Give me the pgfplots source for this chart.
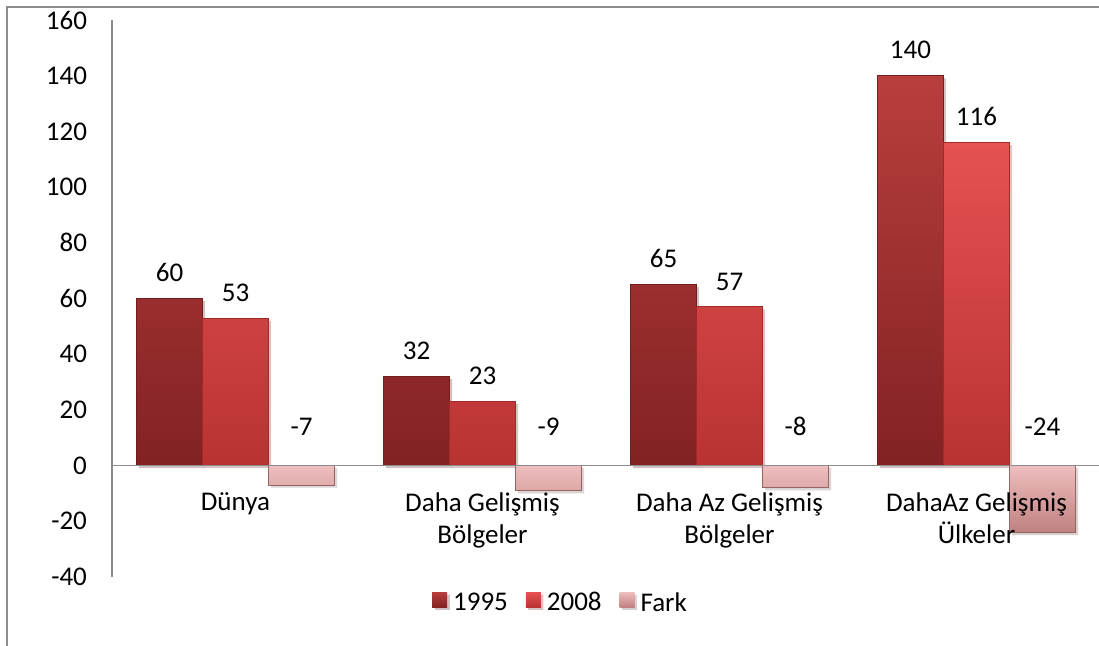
\documentclass[border=0pt]{standalone}
\usepackage{pgfplots}
\pgfplotsset{compat=1.18}
\usepackage{fontspec}
\setmainfont{Carlito}
\definecolor{aTop}{RGB}{185,62,62}
\definecolor{aBot}{RGB}{130,34,34}
\definecolor{aDr}{RGB}{115,30,30}
\definecolor{bTop}{RGB}{230,82,82}
\definecolor{bBot}{RGB}{185,50,50}
\definecolor{bDr}{RGB}{160,42,42}
\definecolor{cTop}{RGB}{238,190,190}
\definecolor{cBot}{RGB}{192,128,128}
\definecolor{cDr}{RGB}{150,100,100}
\definecolor{axgray}{RGB}{140,140,140}
\begin{document}
\begin{tikzpicture}[font=\fontsize{13.5pt}{16pt}\selectfont]
\path[use as bounding box] (-56pt,-34pt) rectangle (493.5pt,288.5pt);
\draw[axgray, line width=0.6pt] (-52.5pt,-40pt) -- (-52.5pt,285pt) -- (500pt,285pt);
\begin{axis}[
  at={(0,0)}, anchor=south west,
  scale only axis, width=494pt, height=278.5pt,
  ymin=-40, ymax=160, ytick={-40,-20,...,160},
  xmin=-0.5, xmax=3.5, xtick={0,1,2,3},
  xticklabels={Dünya,{Daha Gelişmiş\\Bölgeler},{Daha Az Gelişmiş\\Bölgeler},{DahaAz Gelişmiş\\Ülkeler}},
  ybar=0pt, bar width=33pt,
  axis on top,
  axis x line*=middle, axis y line*=left,
  axis line style={axgray, line width=0.6pt},
  major tick length=0pt,
  /pgf/number format/assume math mode=true,
  yticklabel style={xshift=-9pt},
  xticklabel style={align=center, yshift=-10pt},
  clip=false,
  legend style={at={(0.455,-0.047)}, anchor=center, draw=none, fill=none,
    legend columns=3, /tikz/every even column/.append style={column sep=7pt},
    /tikz/every odd column/.append style={column sep=1pt}},
  legend image code/.code={\path[#1, draw=none] (0pt,-2pt) rectangle (7.5pt,5.5pt);},
  nodes near coords,
  every node near coord/.append style={anchor=south, yshift=4.8pt, text=black},
  shadowed/.style={preaction={fill=black, fill opacity=0.14, draw=none, transform canvas={xshift=1.3pt, yshift=-1.3pt}}},
]
\addplot[shadowed, top color=aTop, bottom color=aBot, draw=aDr, line width=0.4pt]
  coordinates {(0,60) (1,32) (2,65) (3,140)};
\addplot[shadowed, top color=bTop, bottom color=bBot, draw=bDr, line width=0.4pt]
  coordinates {(0,53) (1,23) (2,57) (3,116)};
\addplot[shadowed, top color=cTop, bottom color=cBot, draw=cDr, line width=0.4pt,
  visualization depends on={rawy \as \ry},
  every node near coord/.append style={anchor=south, shift={(axis direction cs:0,{-\ry})}, yshift=6.5pt}]
  coordinates {(0,-7) (1,-9) (2,-8) (3,-24)};
\legend{1995,2008,Fark}
\end{axis}
\end{tikzpicture}
\end{document}
